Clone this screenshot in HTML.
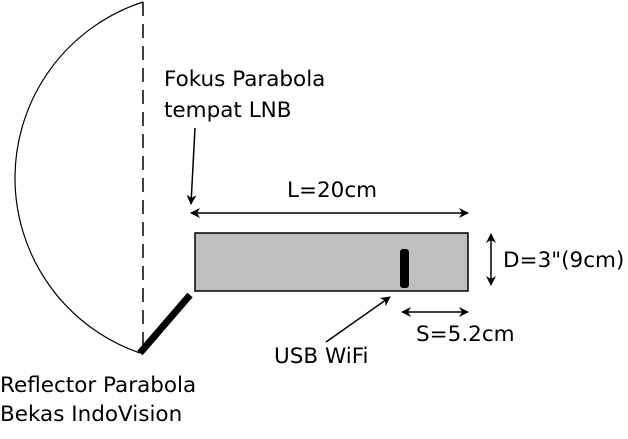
<!DOCTYPE html>
<html><head><style>body{margin:0;background:#fff}svg{display:block}text{font-family:"DejaVu Sans","Liberation Sans",sans-serif;font-size:21.5px;fill:#000}</style></head>
<body>
<svg width="628" height="439" viewBox="0 0 628 439">
<defs><marker id="a" markerWidth="10" markerHeight="10" refX="9" refY="5" orient="auto-start-reverse" markerUnits="userSpaceOnUse"><path d="M0,0 L10,5 L0,10 L3,5 Z" fill="#000"/></marker></defs>
<path d="M143,2 A185,185 0 0 0 140,353" fill="none" stroke="#000" stroke-width="1.2"/>
<line x1="143" y1="2" x2="143" y2="353" stroke="#000" stroke-width="1.5" stroke-dasharray="14,8"/>
<line x1="140" y1="353" x2="190" y2="295" stroke="#000" stroke-width="7"/>
<rect x="195" y="233" width="273" height="58" fill="#bfbfbf" stroke="#000" stroke-width="1.5"/>
<rect x="400" y="249" width="9" height="39" rx="3" fill="#000"/>
<line x1="195" y1="128" x2="191" y2="204" stroke="#000" stroke-width="1.5" marker-end="url(#a)"/>
<line x1="191" y1="213" x2="468" y2="213" stroke="#000" stroke-width="1.5" marker-start="url(#a)" marker-end="url(#a)"/>
<line x1="491" y1="234" x2="491" y2="285" stroke="#000" stroke-width="1.5" marker-start="url(#a)" marker-end="url(#a)"/>
<line x1="402" y1="312" x2="468" y2="312" stroke="#000" stroke-width="1.5" marker-start="url(#a)" marker-end="url(#a)"/>
<line x1="326" y1="342" x2="390" y2="297" stroke="#000" stroke-width="1.5" marker-end="url(#a)"/>
<text x="164" y="86">Fokus Parabola</text>
<text x="164" y="117">tempat LNB</text>
<text x="287" y="197">L=20cm</text>
<text x="503" y="267">D=3"(9cm)</text>
<text x="416" y="341">S=5.2cm</text>
<text x="274" y="363">USB WiFi</text>
<text x="0" y="392">Reflector Parabola</text>
<text x="0" y="421">Bekas IndoVision</text>
</svg>
</body></html>
